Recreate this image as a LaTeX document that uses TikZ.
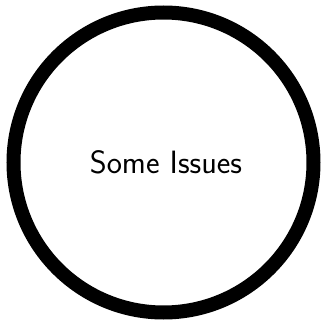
\documentclass[tikz,border=0pt]{standalone}
\begin{document}
\begin{tikzpicture}[x=1pt,y=1pt,
  ring/.style={circle,draw=black,line width=14pt,minimum size=300pt,inner sep=0pt},
  label/.style={font=\fontsize{32.3}{38}\sffamily}]
\useasboundingbox (0,0) rectangle (321,322);
\node[ring] (c) at (163.5,159.5) {};
\node[label] (t) at (166,160) {Some Issues};
\end{tikzpicture}
\end{document}
